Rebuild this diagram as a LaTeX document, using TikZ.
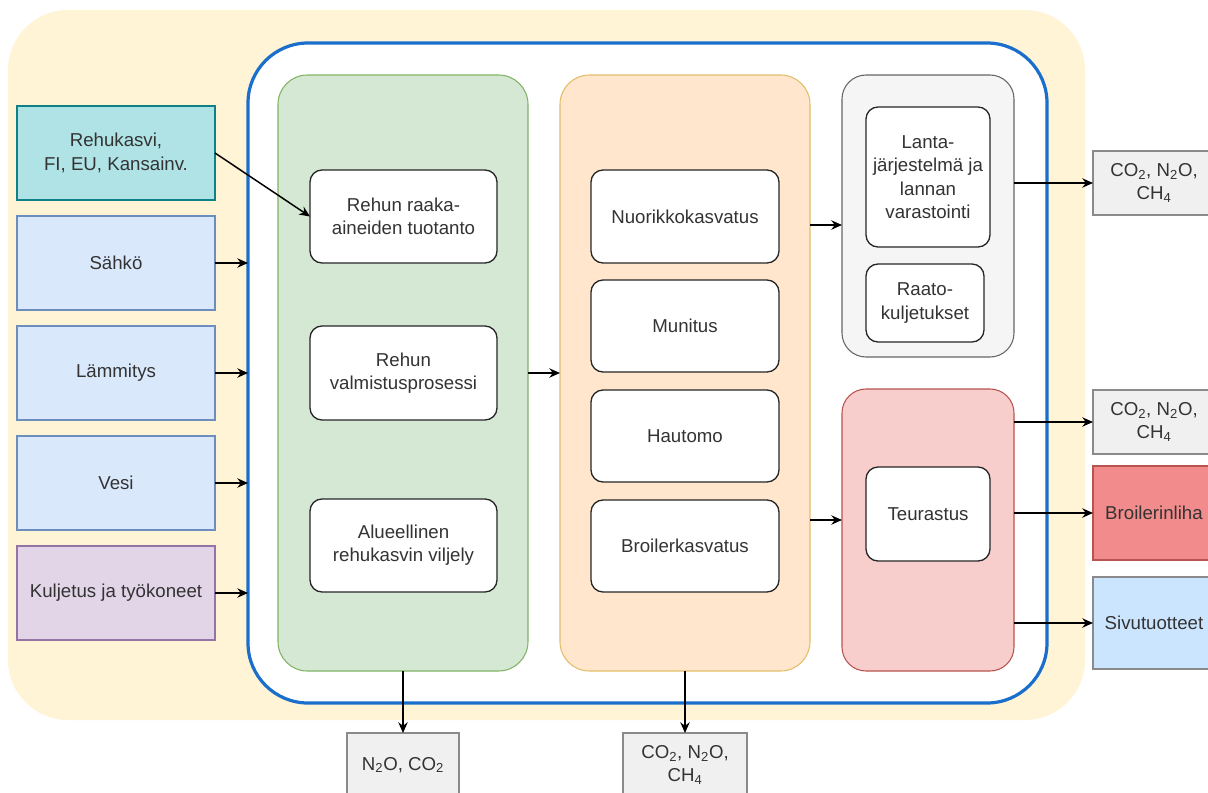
\documentclass[tikz,border=0pt]{standalone}
\usepackage{fontspec}
\setmainfont{Liberation Sans}
\usetikzlibrary{arrows.meta}
\definecolor{beige}{HTML}{FFF4D6}
\definecolor{bluec}{HTML}{1A6ECC}
\definecolor{greenf}{HTML}{D5E8D4}\definecolor{greend}{HTML}{82B366}
\definecolor{orangef}{HTML}{FFE6CC}\definecolor{oranged}{HTML}{E3BE6A}
\definecolor{grayf}{HTML}{F5F5F5}\definecolor{grayd}{HTML}{666666}
\definecolor{pinkf}{HTML}{F8CECC}\definecolor{pinkd}{HTML}{B85450}
\definecolor{tealf}{HTML}{B0E3E6}\definecolor{teald}{HTML}{0E8088}
\definecolor{lbluef}{HTML}{DAE8FC}\definecolor{lblued}{HTML}{6C8EBF}
\definecolor{purpf}{HTML}{E1D5E7}\definecolor{purpd}{HTML}{9673A6}
\definecolor{redf}{HTML}{F28B8B}
\definecolor{sivuf}{HTML}{CCE5FF}
\definecolor{outf}{HTML}{F0F0F0}\definecolor{outd}{HTML}{8A8A8A}
\definecolor{txt}{HTML}{333333}
\newcommand\bx[7]{\node[#6, minimum width={(#4-#2)*0.75pt}, minimum height={(#5-#3)*0.75pt}] (#1) at ({(#2+#4)/2},{(#3+#5)/2}) {#7};}
\tikzset{
  every node/.style={inner sep=0pt, outer sep=0pt, align=center, text=txt, font=\fontsize{14}{17.5}\selectfont},
  container/.style={draw, rounded corners=22pt, line width=0.8pt},
  whitebox/.style={draw=black!85, fill=white, rounded corners=9pt, line width=1pt},
  inbox/.style={draw, line width=0.8pt},
  outbox/.style={draw=outd, fill=outf, line width=0.8pt},
  arr/.style={-{Stealth[length=8pt,width=7pt]}, line width=1.1pt, black}
}
\begin{document}
\begin{tikzpicture}[x=0.75pt,y=-0.75pt]
\useasboundingbox (0,0) rectangle (1208,793);
\clip (0,0) rectangle (1208,793);
\fill[white] (0,0) rectangle (1208,793);
% outer areas
\bx{bg}{8}{10}{1085}{720}{fill=beige, rounded corners=45pt}{}
\bx{blue}{248}{43}{1047}{703}{draw=bluec, fill=white, line width=2.4pt, rounded corners=45pt}{}
% containers
\bx{green}{278}{75}{528}{671}{container, draw=greend, fill=greenf}{}
\bx{orange}{560}{75}{810}{671}{container, draw=oranged, fill=orangef}{}
\bx{gray}{842}{75}{1014}{357}{container, rounded corners=18pt, draw=grayd, fill=grayf}{}
\bx{pink}{842}{389}{1014}{671}{container, rounded corners=18pt, draw=pinkd, fill=pinkf}{}
% left inputs
\bx{rehu}{17}{106}{215}{200}{inbox, draw=teald, fill=tealf}{Rehukasvi,\\FI, EU, Kansainv.}
\bx{sahko}{17}{216}{215}{310}{inbox, draw=lblued, fill=lbluef}{Sähkö}
\bx{lamm}{17}{326}{215}{420}{inbox, draw=lblued, fill=lbluef}{Lämmitys}
\bx{vesi}{17}{436}{215}{530}{inbox, draw=lblued, fill=lbluef}{Vesi}
\bx{kulj}{17}{546}{215}{640}{inbox, draw=purpd, fill=purpf}{Kuljetus ja työkoneet}
% green inner
\bx{raaka}{310}{170}{497}{263}{whitebox}{Rehun raaka-\\aineiden tuotanto}
\bx{valm}{310}{326}{497}{420}{whitebox}{Rehun\\valmistusprosessi}
\bx{alue}{310}{499}{497}{592}{whitebox}{Alueellinen\\rehukasvin viljely}
% orange inner
\bx{nuor}{591}{170}{779}{263}{whitebox}{Nuorikkokasvatus}
\bx{muni}{591}{280}{779}{372}{whitebox}{Munitus}
\bx{haut}{591}{390}{779}{482}{whitebox}{Hautomo}
\bx{broi}{591}{500}{779}{592}{whitebox}{Broilerkasvatus}
% gray inner
\bx{lanta}{866}{107}{990}{247}{whitebox}{Lanta-\\järjestelmä ja\\lannan\\varastointi}
\bx{raato}{866}{264}{984}{342}{whitebox}{Raato-\\kuljetukset}
% pink inner
\bx{teur}{866}{467}{990}{561}{whitebox}{Teurastus}
% outputs right
\bx{co1}{1093}{151}{1215}{215}{outbox}{CO\textsubscript{2}, N\textsubscript{2}O,\\CH\textsubscript{4}}
\bx{co2}{1093}{390}{1215}{454}{outbox}{CO\textsubscript{2}, N\textsubscript{2}O,\\CH\textsubscript{4}}
\bx{meat}{1093}{466}{1215}{560}{draw=pinkd, fill=redf, line width=0.8pt}{Broilerinliha}
\bx{sivu}{1093}{577}{1215}{669}{draw=outd, fill=sivuf, line width=0.8pt}{Sivutuotteet}
% outputs bottom
\bx{nco}{347}{733}{459}{797}{outbox}{N\textsubscript{2}O, CO\textsubscript{2}}
\bx{co3}{623}{733}{747}{797}{outbox}{CO\textsubscript{2}, N\textsubscript{2}O,\\CH\textsubscript{4}}
% connectors
\draw[arr] (rehu.east) -- (raaka.west);
\draw[arr] (sahko.east) -- (blue.west |- sahko.east);
\draw[arr] (lamm.east) -- (blue.west |- lamm.east);
\draw[arr] (vesi.east) -- (blue.west |- vesi.east);
\draw[arr] (kulj.east) -- (blue.west |- kulj.east);
\draw[arr] (green.east) -- (orange.west);
\draw[arr] ([yshift=-6.75pt]orange.east |- gray.west) -- ([yshift=-6.75pt]gray.west);
\draw[arr] ([yshift=7.5pt]orange.east |- pink.west) -- ([yshift=7.5pt]pink.west);
\draw[arr] (gray.east |- co1.west) -- (co1.west);
\draw[arr] (pink.east |- co2.west) -- (co2.west);
\draw[arr] (pink.east |- meat.west) -- (meat.west);
\draw[arr] (pink.east |- sivu.west) -- (sivu.west);
\draw[arr] (nco.north |- green.south) -- (nco.north);
\draw[arr] (co3.north |- orange.south) -- (co3.north);
\end{tikzpicture}
\end{document}
